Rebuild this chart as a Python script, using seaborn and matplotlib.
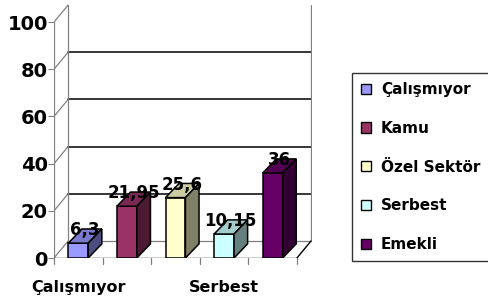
import matplotlib
matplotlib.use('Agg')
import numpy as np
import matplotlib.pyplot as plt
import seaborn as sns
from matplotlib.patches import Polygon, Patch
from matplotlib.colors import to_rgb

categories = ['Çalışmıyor', 'Kamu', 'Özel Sektör', 'Serbest', 'Emekli']
values = [6.3, 21.95, 25.6, 10.15, 36]
value_labels = ['6,3', '21,95', '25,6', '10,15', '36']
colors = ['#9999FF', '#993366', '#FFFFCC', '#CCFFFF', '#660066']
shown_ticks = ['Çalışmıyor', 'Serbest']
y_ticks = [0, 20, 40, 60, 80, 100]

sns.set_style('white')
plt.rcParams['font.family'] = ['DejaVu Sans']
plt.rcParams['text.color'] = 'black'
plt.rcParams['xtick.labelcolor'] = 'black'
plt.rcParams['ytick.labelcolor'] = 'black'

fig = plt.figure(figsize=(4.88, 3.05), dpi=100)
ax = fig.add_axes([54 / 488, 47 / 305, 258 / 488, 256 / 305])

sns.barplot(x=categories, y=values, hue=categories, palette=colors, width=0.41,
            saturation=1, edgecolor='black', linewidth=1.1, legend=False, ax=ax, zorder=3)

# fake 3d depth
bdx, bdy = 0.28, 6.0   # bar depth (data units)
wdx, wdy = 0.29, 7.2   # wall depth
x0, x1 = -0.5, len(categories) - 0.5

# walls, floor and grid
grey = '#808080'
for t in y_ticks:
    ax.plot([x0, x0 + wdx], [t, t + wdy], color=grey, lw=0.9, zorder=1)
    if 0 < t < 100:
        ax.plot([x0 + wdx, x1 + wdx], [t + wdy, t + wdy], color='black', lw=1.1, zorder=1)
ax.plot([x0, x0], [0, 100], color=grey, lw=0.9, zorder=1)
ax.plot([x0 + wdx, x0 + wdx], [wdy, 100 + wdy], color=grey, lw=0.9, zorder=1)
ax.plot([x1 + wdx, x1 + wdx], [wdy, 100 + wdy], color=grey, lw=0.9, zorder=1)
ax.plot([x0 + wdx, x1 + wdx], [wdy, wdy], color=grey, lw=0.9, zorder=1)
ax.plot([x0, x1], [0, 0], color='black', lw=1.0, zorder=2)
ax.plot([x1, x1 + wdx], [0, wdy], color='black', lw=1.0, zorder=2)

# category tick marks below the floor
for xb in np.arange(x0, x1 + 0.01, 1.0):
    ax.plot([xb, xb], [0, -2.6], color=grey, lw=0.9, clip_on=False, zorder=2)

for p, c in zip(ax.patches, colors):
    xl, w, h = p.get_x(), p.get_width(), p.get_height()
    rgb = np.array(to_rgb(c))
    top = [(xl, h), (xl + w, h), (xl + w + bdx, h + bdy), (xl + bdx, h + bdy)]
    side = [(xl + w, 0), (xl + w + bdx, bdy), (xl + w + bdx, h + bdy), (xl + w, h)]
    ax.add_patch(Polygon(top, closed=True, facecolor=rgb * 0.8, edgecolor='black', lw=1.1, zorder=3))
    ax.add_patch(Polygon(side, closed=True, facecolor=rgb * 0.5, edgecolor='black', lw=1.1, zorder=3))

for i, (v, lab) in enumerate(zip(values, value_labels)):
    ax.text(i + 0.14, v + 5.5, lab, ha='center', va='center', fontsize=12,
            fontweight='bold', zorder=5)

ax.set_xlim(x0, x1 + 0.31)
ax.set_ylim(0, 108.5)
ax.set_yticks(y_ticks)
ax.set_yticklabels([str(t) for t in y_ticks], fontsize=14, fontweight='bold')
ax.tick_params(axis='y', left=True, length=4, color=grey, pad=0.5)
ax.set_xticks([categories.index(s) for s in shown_ticks])
ax.set_xticklabels(shown_ticks, fontsize=11.5, fontweight='bold')
ax.tick_params(axis='x', length=0, pad=16)
ax.set_xlabel('')
ax.set_ylabel('')
for s in ax.spines.values():
    s.set_visible(False)

handles = [Patch(facecolor=c, edgecolor='black', label=l) for c, l in zip(colors, categories)]
leg = fig.legend(handles=handles, loc='center left', bbox_to_anchor=(352 / 488, 0.452),
                 frameon=True, fancybox=False, edgecolor='black',
                 prop={'weight': 'bold', 'size': 11}, labelspacing=1.55,
                 handlelength=0.65, handleheight=0.65, handletextpad=0.65,
                 borderpad=0.6, borderaxespad=0)
leg.get_frame().set_linewidth(1.0)

fig.savefig('out.png', dpi=100)
